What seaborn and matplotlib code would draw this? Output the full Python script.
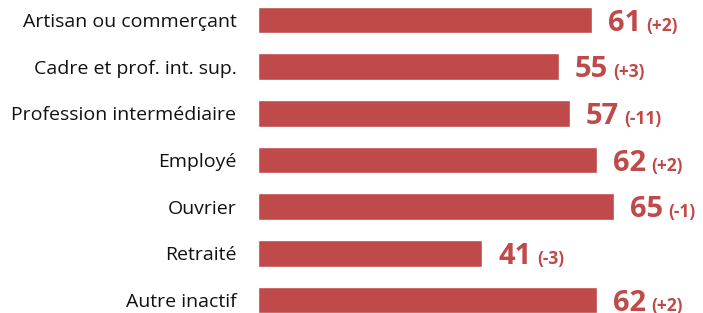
import matplotlib
matplotlib.use("Agg")
import matplotlib.pyplot as plt
import seaborn as sns

categories = ["Artisan ou commerçant", "Cadre et prof. int. sup.", "Profession intermédiaire",
              "Employé", "Ouvrier", "Retraité", "Autre inactif"]
values = [61, 55, 57, 62, 65, 41, 62]
changes = ["(+2)", "(+3)", "(-11)", "(+2)", "(-1)", "(-3)", "(+2)"]

red = "#C0494A"

sns.set_style("white")
plt.rcParams["font.family"] = ["Open Sans", "DejaVu Sans"]

fig = plt.figure(figsize=(7.03, 3.13), dpi=100)
ax = fig.add_axes([258 / 703, 0, 445 / 703, 1])

sns.barplot(x=values, y=categories, orient="h", color=red, saturation=1, width=0.57, ax=ax)

ax.set_xlim(0, 445 / 5.47)
ax.set_ylim(6.5 - 10.3 / 46.67, -0.5 + 3.3 / 46.67)
ax.set_xticks([])
ax.set_xlabel("")
ax.set_ylabel("")
ax.tick_params(axis="y", length=0, pad=15.5, labelsize=14, labelcolor="#111111")
sns.despine(ax=ax, left=True, bottom=True)

for i, (v, c) in enumerate(zip(values, changes)):
    t1 = ax.annotate(str(v), xy=(v, i + 0.23), xytext=(11.5, 0), textcoords="offset points",
                     ha="left", va="baseline", fontsize=21, fontweight="bold", color=red)
    ax.annotate(c, xy=(1, i + 0.23), xycoords=(t1, "data"), xytext=(4, 0),
                textcoords="offset points", ha="left", va="baseline",
                fontsize=12.5, fontweight="bold", color=red)

fig.savefig("out.png", dpi=100)
